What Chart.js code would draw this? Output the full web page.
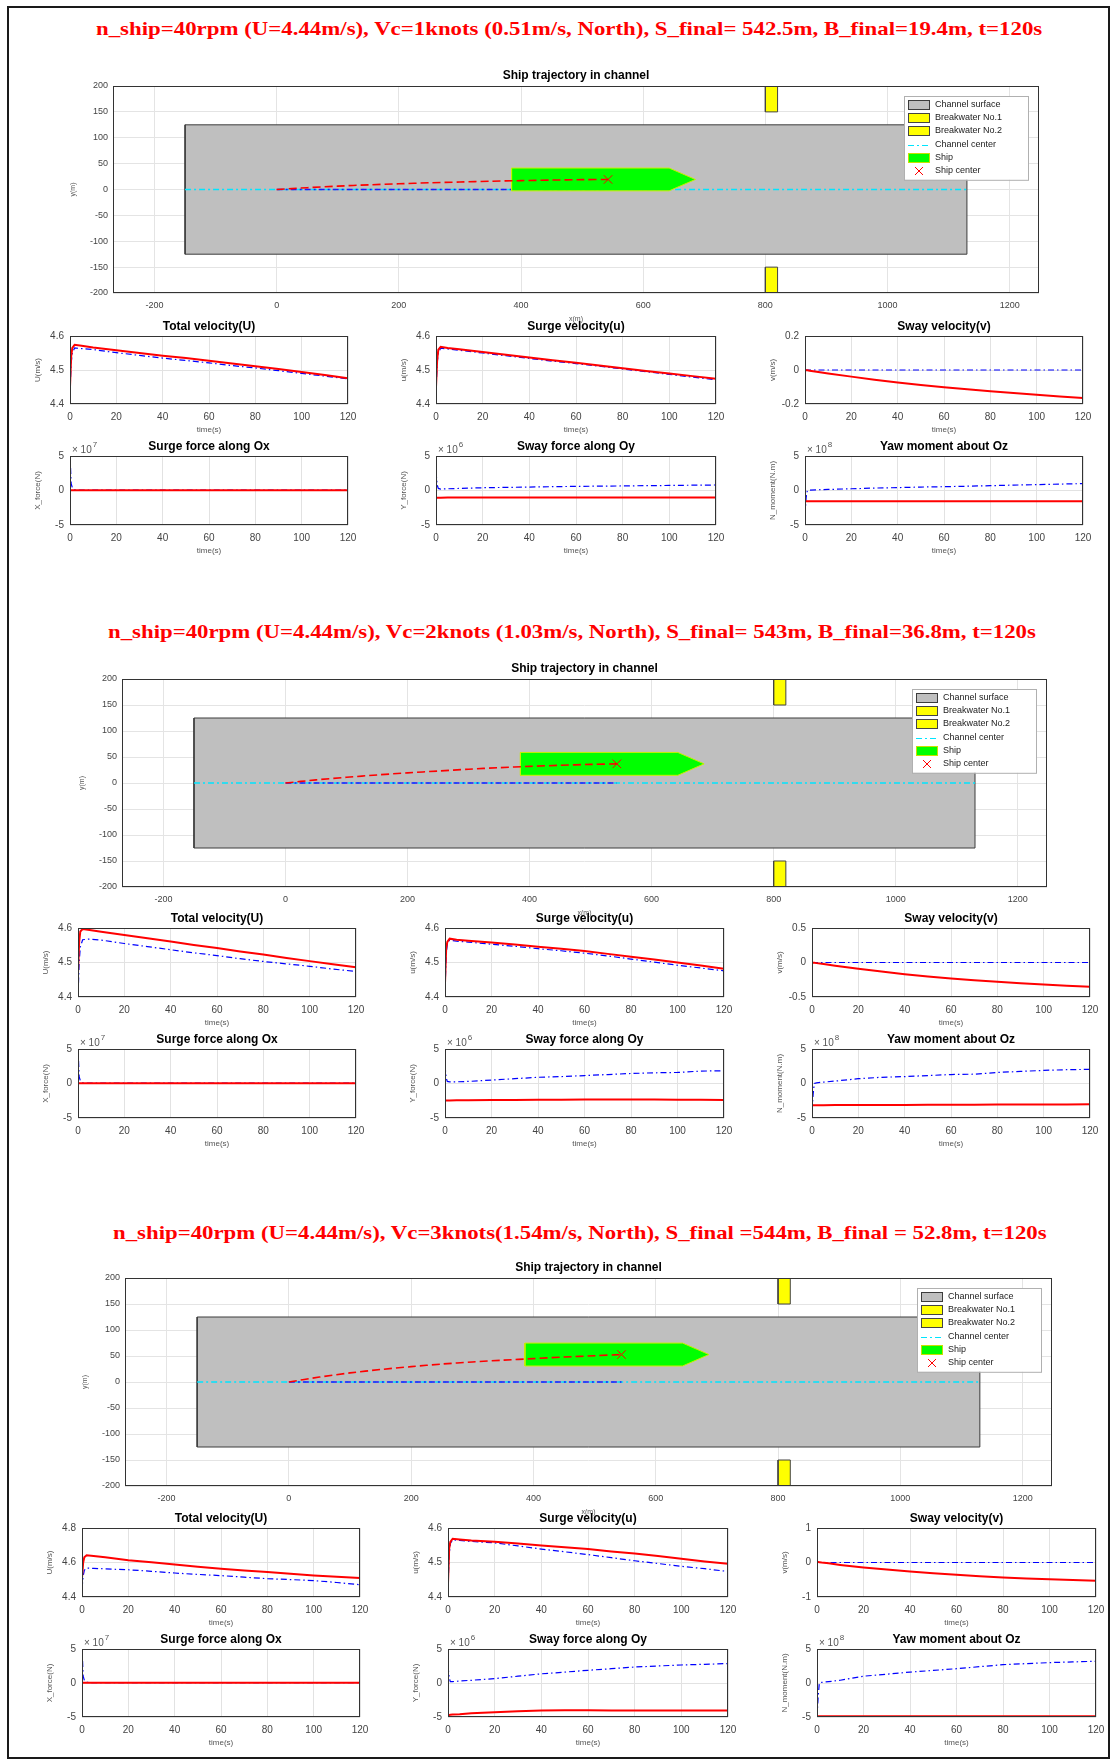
<!DOCTYPE html>
<html>
<head>
<meta charset="utf-8">
<title>Ship trajectory in channel</title>
<script src="https://cdn.jsdelivr.net/npm/chart.js@4.4.1/dist/chart.umd.min.js"></script>
<style>
body { margin: 0; background: #fff; }
#page { position: relative; width: 1111px; height: 1762px; overflow: hidden; background: #fff; }
#frame { position: absolute; left: 7px; top: 6px; width: 1103px; height: 1753px; border: 2px solid #1a1a1a; box-sizing: border-box; }
.mainTitle { position: absolute; white-space: nowrap; font: bold 19px "Liberation Serif", "Times New Roman", serif; color: #ff0000; line-height: 1; transform-origin: 0 50%; }
.cbox { position: absolute; }
</style>
</head>
<body>
<div id="page"><div id="frame"></div></div>
<script>
// ---- data ----
var titles = [
  "n_ship=40rpm (U=4.44m/s), Vc=1knots (0.51m/s, North), S_final= 542.5m, B_final=19.4m, t=120s",
  "n_ship=40rpm (U=4.44m/s), Vc=2knots (1.03m/s, North), S_final= 543m, B_final=36.8m, t=120s",
  "n_ship=40rpm (U=4.44m/s), Vc=3knots(1.54m/s, North), S_final =544m, B_final = 52.8m, t=120s"
];
var smallTitles = ["Total velocity(U)", "Surge velocity(u)", "Sway velocity(v)", "Surge force along Ox", "Sway force along Oy", "Yaw moment about Oz"];
var smallYLabels = ["U(m/s)", "u(m/s)", "v(m/s)", "X_force(N)", "Y_force(N)", "N_moment(N.m)"];
var forceExp = ["7", "6", "8"];

var timeS = [0, 0.5, 1, 2, 5, 10, 20, 30, 40, 50, 60, 70, 80, 90, 100, 110, 120];
var timeTicks = [0, 20, 40, 60, 80, 100, 120];

var trajXTicks = [-200, 0, 200, 400, 600, 800, 1000, 1200];
var trajYTicks = [-200, -150, -100, -50, 0, 50, 100, 150, 200];
var trajXRange = [-268, 1248];

var channelX = [-150, 1130, 1130, -150, -150];
var channelY = [-125, -125, 125, 125, -125];
var breakwater1X = [800, 820, 820, 800, 800];
var breakwater1Y = [150, 150, 200, 200, 150];
var breakwater2X = [800, 820, 820, 800, 800];
var breakwater2Y = [-200, -200, -150, -150, -200];
var centerX = [-150, 1130];
var centerY = [0, 0];
var shipDX = [-158, 100, 143, 100, -158, -158];
var shipDY = [-22, -22, 0, 22, 22, -22];

var S_final = [542.5, 543, 544];
var B_final = [19.4, 36.8, 52.8];
var trajX1 = [0, 50, 100, 150, 200, 250, 300, 350, 400, 450, 500, 542.5];
var trajY1 = [0, 3.5, 6.5, 9, 11, 13, 14.5, 16, 17.2, 18.2, 19, 19.4];
var trajX2 = [0, 50, 100, 150, 200, 250, 300, 350, 400, 450, 500, 543];
var trajY2 = [0, 6, 11, 15.5, 19.5, 23, 26.5, 29.5, 32, 34, 35.8, 36.8];
var trajX3 = [0, 50, 100, 150, 200, 250, 300, 350, 400, 450, 500, 544];
var trajY3 = [0, 9.5, 17.5, 24, 29.5, 34.5, 38.5, 42, 45, 48, 50.5, 52.8];

var ticksU1 = [4.4, 4.5, 4.6];
var ticksU2 = [4.4, 4.5, 4.6];
var ticksU3 = [4.4, 4.6, 4.8];
var ticksu = [4.4, 4.5, 4.6];
var ticksV1 = [-0.2, 0, 0.2];
var ticksV2 = [-0.5, 0, 0.5];
var ticksV3 = [-1, 0, 1];
var ticksF = [-5, 0, 5];

// Vc = 1 knot
var U1_red  = [4.45, 4.54, 4.565, 4.574, 4.571, 4.566, 4.558, 4.550, 4.542, 4.535, 4.527, 4.519, 4.511, 4.503, 4.494, 4.485, 4.476];
var U1_blue = [4.44, 4.52, 4.550, 4.565, 4.563, 4.560, 4.551, 4.543, 4.535, 4.528, 4.521, 4.513, 4.506, 4.498, 4.490, 4.482, 4.474];
var u1_red  = [4.45, 4.53, 4.560, 4.568, 4.565, 4.561, 4.553, 4.545, 4.537, 4.529, 4.521, 4.513, 4.505, 4.497, 4.490, 4.482, 4.474];
var u1_blue = [4.44, 4.52, 4.550, 4.564, 4.562, 4.558, 4.550, 4.542, 4.534, 4.526, 4.519, 4.511, 4.503, 4.495, 4.487, 4.479, 4.471];
var v1_red  = [0, -0.001, -0.002, -0.004, -0.010, -0.020, -0.039, -0.057, -0.073, -0.088, -0.101, -0.113, -0.125, -0.136, -0.146, -0.156, -0.164];
var v1_blue = [0, 0, 0, 0, 0, 0, 0, 0, 0, 0, 0, 0, 0, 0, 0, 0, 0];
var X1_red  = [0.05, 0.05, 0.05, 0.05, 0.05, 0.05, 0.05, 0.05, 0.05, 0.05, 0.05, 0.05, 0.05, 0.05, 0.05, 0.05, 0.05];
var X1_blue = [5.2, 1.0, 0.4, 0.1, 0.05, 0.05, 0.05, 0.05, 0.05, 0.05, 0.05, 0.05, 0.05, 0.05, 0.05, 0.05, 0.05];
var Y1_red  = [-1.05, -1.05, -1.05, -1.04, -1.03, -1.02, -1.0, -1.0, -1.0, -1.0, -1.0, -1.0, -1.0, -1.0, -1.0, -1.0, -1.0];
var Y1_blue = [2.7, 0.8, 0.3, 0.2, 0.25, 0.3, 0.4, 0.45, 0.5, 0.55, 0.6, 0.63, 0.66, 0.7, 0.73, 0.77, 0.8];
var N1_red  = [-1.55, -1.55, -1.55, -1.55, -1.55, -1.55, -1.55, -1.55, -1.55, -1.55, -1.55, -1.55, -1.55, -1.55, -1.55, -1.55, -1.55];
var N1_blue = [-3.5, -1.0, 0.0, 0.05, 0.1, 0.15, 0.25, 0.35, 0.42, 0.5, 0.55, 0.62, 0.7, 0.78, 0.85, 0.93, 1.0];

// Vc = 2 knots
var U2_red  = [4.47, 4.56, 4.590, 4.597, 4.594, 4.589, 4.580, 4.570, 4.561, 4.551, 4.542, 4.532, 4.523, 4.513, 4.504, 4.495, 4.486];
var U2_blue = [4.40, 4.50, 4.545, 4.566, 4.568, 4.565, 4.555, 4.546, 4.537, 4.528, 4.520, 4.511, 4.503, 4.496, 4.489, 4.481, 4.474];
var u2_red  = [4.44, 4.54, 4.560, 4.569, 4.566, 4.563, 4.558, 4.552, 4.546, 4.540, 4.533, 4.525, 4.517, 4.509, 4.500, 4.491, 4.482];
var u2_blue = [4.42, 4.52, 4.555, 4.565, 4.562, 4.559, 4.553, 4.547, 4.540, 4.534, 4.527, 4.519, 4.510, 4.501, 4.492, 4.484, 4.476];
var v2_red  = [0, -0.002, -0.004, -0.009, -0.023, -0.046, -0.092, -0.131, -0.169, -0.202, -0.232, -0.257, -0.280, -0.300, -0.319, -0.337, -0.353];
var v2_blue = [0, 0, 0, 0, 0, 0, 0, 0, 0, 0, 0, 0, 0, 0, 0, 0, 0];
var X2_red  = [0.05, 0.05, 0.05, 0.05, 0.05, 0.05, 0.05, 0.05, 0.05, 0.05, 0.05, 0.05, 0.05, 0.05, 0.05, 0.05, 0.05];
var X2_blue = [5.2, 1.0, 0.4, 0.1, 0.05, 0.05, 0.05, 0.05, 0.05, 0.05, 0.05, 0.05, 0.05, 0.05, 0.05, 0.05, 0.05];
var Y2_red  = [-2.45, -2.45, -2.45, -2.45, -2.44, -2.42, -2.40, -2.38, -2.36, -2.34, -2.32, -2.31, -2.31, -2.32, -2.34, -2.36, -2.38];
var Y2_blue = [2.6, 0.8, 0.3, 0.25, 0.25, 0.3, 0.5, 0.7, 0.9, 1.0, 1.15, 1.3, 1.45, 1.55, 1.6, 1.8, 1.85];
var N2_red  = [-3.15, -3.15, -3.15, -3.15, -3.14, -3.13, -3.12, -3.11, -3.1, -3.09, -3.08, -3.07, -3.06, -3.05, -3.04, -3.03, -3.0];
var N2_blue = [-3.9, -1.5, 0.0, 0.1, 0.2, 0.35, 0.7, 0.9, 1.0, 1.15, 1.3, 1.35, 1.6, 1.75, 1.9, 2.0, 2.05];

// Vc = 3 knots
var U3_red  = [4.51, 4.60, 4.630, 4.642, 4.638, 4.630, 4.613, 4.601, 4.589, 4.576, 4.564, 4.554, 4.545, 4.535, 4.525, 4.517, 4.510];
var U3_blue = [4.45, 4.52, 4.555, 4.568, 4.566, 4.563, 4.558, 4.549, 4.539, 4.531, 4.524, 4.515, 4.506, 4.501, 4.495, 4.484, 4.471];
var u3_red  = [4.44, 4.54, 4.560, 4.569, 4.567, 4.564, 4.560, 4.555, 4.549, 4.544, 4.539, 4.532, 4.526, 4.519, 4.511, 4.503, 4.496];
var u3_blue = [4.43, 4.52, 4.555, 4.566, 4.564, 4.561, 4.557, 4.548, 4.539, 4.531, 4.523, 4.514, 4.505, 4.497, 4.489, 4.482, 4.474];
var v3_red  = [0.02, 0.015, 0.01, 0.0, -0.025, -0.07, -0.145, -0.205, -0.26, -0.31, -0.357, -0.398, -0.435, -0.462, -0.483, -0.505, -0.53];
var v3_blue = [0, 0, 0, 0, 0, 0, 0, 0, 0, 0, 0, 0, 0, 0, 0, 0, 0];
var X3_red  = [0.05, 0.05, 0.05, 0.05, 0.05, 0.05, 0.05, 0.05, 0.05, 0.05, 0.05, 0.05, 0.05, 0.05, 0.05, 0.05, 0.05];
var X3_blue = [5.2, 1.0, 0.4, 0.1, 0.05, 0.05, 0.05, 0.05, 0.05, 0.05, 0.05, 0.05, 0.05, 0.05, 0.05, 0.05, 0.05];
var Y3_red  = [-4.7, -4.7, -4.68, -4.65, -4.6, -4.45, -4.3, -4.15, -4.05, -4.02, -4.02, -4.03, -4.03, -4.03, -4.04, -4.04, -4.04];
var Y3_blue = [2.5, 0.8, 0.2, 0.2, 0.3, 0.4, 0.65, 1.0, 1.35, 1.6, 1.87, 2.1, 2.35, 2.5, 2.65, 2.75, 2.86];
var N3_red  = [-4.9, -4.9, -4.9, -4.9, -4.9, -4.9, -4.9, -4.9, -4.9, -4.9, -4.9, -4.9, -4.9, -4.9, -4.9, -4.9, -4.9];
var N3_blue = [-5.0, -2.0, 0.0, 0.1, 0.2, 0.4, 1.0, 1.3, 1.6, 1.85, 2.1, 2.4, 2.7, 2.85, 3.0, 3.1, 3.2];

// ---- layout of the three panels (page pixels) ----
var panels = [
  { titleBox: [96, 1042, 28], trajArea: [113, 86, 1039, 293], tx: trajX1, ty: trajY1,
    cols: [[70, 348], [436, 716], [805, 1083]], rows: [[336, 404], [456, 525]],
    series: [[U1_red, U1_blue, ticksU1], [u1_red, u1_blue, ticksu], [v1_red, v1_blue, ticksV1],
             [X1_red, X1_blue, ticksF], [Y1_red, Y1_blue, ticksF], [N1_red, N1_blue, ticksF]] },
  { titleBox: [108, 1036, 631], trajArea: [122, 679, 1047, 887], tx: trajX2, ty: trajY2,
    cols: [[78, 356], [445, 724], [812, 1090]], rows: [[928, 997], [1049, 1118]],
    series: [[U2_red, U2_blue, ticksU2], [u2_red, u2_blue, ticksu], [v2_red, v2_blue, ticksV2],
             [X2_red, X2_blue, ticksF], [Y2_red, Y2_blue, ticksF], [N2_red, N2_blue, ticksF]] },
  { titleBox: [113, 1047, 1232], trajArea: [125, 1278, 1052, 1486], tx: trajX3, ty: trajY3,
    cols: [[82, 360], [448, 728], [817, 1096]], rows: [[1528, 1597], [1649, 1717]],
    series: [[U3_red, U3_blue, ticksU3], [u3_red, u3_blue, ticksu], [v3_red, v3_blue, ticksV3],
             [X3_red, X3_blue, ticksF], [Y3_red, Y3_blue, ticksF], [N3_red, N3_blue, ticksF]] }
];

var FONT = '"Liberation Sans", Arial, Helvetica, sans-serif';
Chart.defaults.font.family = FONT;
Chart.defaults.animation = false;

var page = document.getElementById('page');

// MATLAB-like box around the axes
var axesFrame = {
  id: 'axesFrame',
  afterDatasetsDraw: function(chart) {
    var a = chart.chartArea, ctx = chart.ctx;
    ctx.save();
    ctx.strokeStyle = '#333';
    ctx.lineWidth = 1;
    ctx.strokeRect(Math.round(a.left) + 0.5, Math.round(a.top) + 0.5, Math.round(a.width) - 1, Math.round(a.height) - 1);
    ctx.restore();
  }
};

// "x 10^n" multiplier above the y axis
var expLabel = {
  id: 'expLabel',
  afterDraw: function(chart, args, opts) {
    if (!opts.exp) return;
    var a = chart.chartArea, ctx = chart.ctx;
    ctx.save();
    ctx.fillStyle = '#555';
    ctx.font = '10px ' + FONT;
    ctx.fillText('\u00d7 10', a.left + 2, a.top - 3);
    var w = ctx.measureText('\u00d7 10').width;
    ctx.font = '8px ' + FONT;
    ctx.fillText(opts.exp, a.left + 3 + w, a.top - 9);
    ctx.restore();
  }
};

// legend box inside the trajectory axes (top right)
var boxLegend = {
  id: 'boxLegend',
  afterDatasetsDraw: function(chart, args, opts) {
    if (!opts.show) return;
    var ctx = chart.ctx, a = chart.chartArea;
    var items = chart.data.datasets.filter(function(d) { return d.legendKind; });
    var w = 124, rowH = 13.3, h = items.length * rowH + 4;
    var x0 = Math.round(a.right - 11 - w), y0 = Math.round(a.top + 10);
    ctx.save();
    ctx.fillStyle = '#fff';
    ctx.fillRect(x0, y0, w, h);
    ctx.strokeStyle = '#b0b0b0';
    ctx.lineWidth = 1;
    ctx.strokeRect(x0 + 0.5, y0 + 0.5, w, h);
    ctx.font = '9px ' + FONT;
    ctx.textBaseline = 'middle';
    items.forEach(function(d, i) {
      var cy = Math.round(y0 + 2 + rowH * (i + 0.5));
      var ix = x0 + 4;
      if (d.legendKind === 'box') {
        ctx.fillStyle = d.backgroundColor;
        ctx.fillRect(ix, cy - 5, 22, 10);
        ctx.strokeStyle = d.legendEdge || d.borderColor;
        ctx.strokeRect(ix + 0.5, cy - 4.5, 21, 9);
      } else if (d.legendKind === 'line') {
        ctx.strokeStyle = d.borderColor;
        ctx.setLineDash(d.borderDash || []);
        ctx.beginPath();
        ctx.moveTo(ix, cy + 0.5);
        ctx.lineTo(ix + 22, cy + 0.5);
        ctx.stroke();
        ctx.setLineDash([]);
      } else {
        ctx.strokeStyle = d.pointBorderColor;
        ctx.beginPath();
        ctx.moveTo(ix + 7, cy - 4); ctx.lineTo(ix + 15, cy + 4);
        ctx.moveTo(ix + 15, cy - 4); ctx.lineTo(ix + 7, cy + 4);
        ctx.stroke();
      }
      ctx.fillStyle = '#222';
      ctx.fillText(d.label, ix + 27, cy);
    });
    ctx.restore();
  }
};

Chart.register(axesFrame, expLabel, boxLegend);

function addCanvas(left, top, width, height) {
  var d = document.createElement('div');
  d.className = 'cbox';
  d.style.left = left + 'px';
  d.style.top = top + 'px';
  d.style.width = width + 'px';
  d.style.height = height + 'px';
  var c = document.createElement('canvas');
  d.appendChild(c);
  page.appendChild(d);
  return c;
}

function pts(xs, ys) {
  return xs.map(function(x, i) { return { x: x, y: ys[i] }; });
}

function fixedTicks(list) {
  return function(s) { s.ticks = list.map(function(v) { return { value: v }; }); };
}

function fmt(v) { return String(+Number(v).toFixed(3)); }

function addTitle(text, box) {
  var d = document.createElement('div');
  d.className = 'mainTitle';
  d.textContent = text;
  page.appendChild(d);
  var w = d.offsetWidth, h = d.offsetHeight;
  d.style.left = box[0] + 'px';
  d.style.top = (box[2] - h / 2) + 'px';
  d.style.transform = 'scaleX(' + ((box[1] - box[0]) / w).toFixed(4) + ')';
}

function smallChart(area, title, yLabel, yTicks, red, blue, exp) {
  var ml = 38, mt = 20, mr = 14, mb = 32;
  var cv = addCanvas(area[0] - ml, area[1] - mt, area[2] - area[0] + ml + mr, area[3] - area[1] + mt + mb);
  new Chart(cv, {
    type: 'line',
    data: {
      datasets: [
        { data: pts(timeS, red), borderColor: '#ff0000', borderWidth: 2, pointRadius: 0, tension: 0, fill: false, order: 1 },
        { data: pts(timeS, blue), borderColor: '#0000ff', borderWidth: 1.2, borderDash: [6, 3, 1.5, 3], pointRadius: 0, tension: 0, fill: false, order: 2 }
      ]
    },
    options: {
      responsive: true, maintainAspectRatio: false, devicePixelRatio: 1, events: [],
      layout: { padding: { left: 0, top: 0, right: mr, bottom: 0 } },
      plugins: {
        legend: { display: false },
        tooltip: { enabled: false },
        title: { display: true, text: title, fullSize: false, color: '#000',
                 font: { size: 12, weight: 'bold', lineHeight: 1 }, padding: { top: mt - 15, bottom: 3 } },
        expLabel: { exp: exp }
      },
      scales: {
        x: {
          type: 'linear', min: timeTicks[0], max: timeTicks[timeTicks.length - 1],
          afterBuildTicks: fixedTicks(timeTicks),
          afterFit: function(s) { s.height = mb; s.paddingLeft = 0; s.paddingRight = 0; },
          grid: { color: '#e2e2e2', drawTicks: false }, border: { display: false },
          ticks: { padding: 7, color: '#444', font: { size: 10 }, maxRotation: 0, autoSkip: false, callback: fmt },
          title: { display: true, text: 'time(s)', color: '#555', font: { size: 8 }, padding: { top: 0, bottom: 1 } }
        },
        y: {
          type: 'linear', min: yTicks[0], max: yTicks[yTicks.length - 1],
          afterBuildTicks: fixedTicks(yTicks),
          afterFit: function(s) { s.width = ml; s.paddingTop = 0; s.paddingBottom = 0; },
          grid: { color: '#e2e2e2', drawTicks: false }, border: { display: false },
          ticks: { padding: 6, color: '#444', font: { size: 10 }, autoSkip: false, callback: fmt },
          title: { display: true, text: yLabel, color: '#555', font: { size: 8 }, padding: { top: 1, bottom: 0 } }
        }
      }
    }
  });
}

function trajChart(area, xs, ys, S, B) {
  var ml = 46, mt = 22, mr = 14, mb = 30;
  var cv = addCanvas(area[0] - ml, area[1] - mt, area[2] - area[0] + ml + mr, area[3] - area[1] + mt + mb);
  var dashDot = [6, 3, 2, 3];
  new Chart(cv, {
    type: 'line',
    data: {
      datasets: [
        { label: 'Channel surface', legendKind: 'box', data: pts(channelX, channelY), fill: 'shape',
          backgroundColor: '#bfbfbf', borderColor: '#3c3c3c', borderWidth: 1, pointRadius: 0, tension: 0, order: 10 },
        { label: 'Breakwater No.1', legendKind: 'box', data: pts(breakwater1X, breakwater1Y), fill: 'shape',
          backgroundColor: '#ffff00', borderColor: '#444', borderWidth: 1, pointRadius: 0, tension: 0, order: 9 },
        { label: 'Breakwater No.2', legendKind: 'box', data: pts(breakwater2X, breakwater2Y), fill: 'shape',
          backgroundColor: '#ffff00', borderColor: '#444', borderWidth: 1, pointRadius: 0, tension: 0, order: 9 },
        { label: 'Channel center', legendKind: 'line', data: pts(centerX, centerY), fill: false,
          borderColor: '#00e5ff', borderWidth: 1.3, borderDash: dashDot, pointRadius: 0, tension: 0, order: 8 },
        { data: pts([0, S], [0, 0]), fill: false,
          borderColor: '#1a1aff', borderWidth: 1.6, borderDash: dashDot, pointRadius: 0, tension: 0, order: 7 },
        { label: 'Ship', legendKind: 'box', legendEdge: '#c8e000',
          data: pts(shipDX.map(function(d) { return S + d; }), shipDY.map(function(d) { return B + d; })), fill: 'shape',
          backgroundColor: '#00ff00', borderColor: '#c8f000', borderWidth: 1, pointRadius: 0, tension: 0, order: 6 },
        { data: pts(xs, ys), fill: false,
          borderColor: '#ff0000', borderWidth: 1.6, borderDash: [8, 4], pointRadius: 0, tension: 0.3, order: 5 },
        { label: 'Ship center', legendKind: 'cross', data: [{ x: S, y: B }], showLine: false, fill: false,
          pointStyle: 'crossRot', pointRadius: 6, pointBorderColor: '#ff0000', pointBorderWidth: 1, order: 4 }
      ]
    },
    options: {
      responsive: true, maintainAspectRatio: false, devicePixelRatio: 1, events: [],
      layout: { padding: { left: 0, top: 0, right: mr, bottom: 0 } },
      plugins: {
        legend: { display: false },
        tooltip: { enabled: false },
        title: { display: true, text: 'Ship trajectory in channel', fullSize: false, color: '#000',
                 font: { size: 12, weight: 'bold', lineHeight: 1 }, padding: { top: 6, bottom: 4 } },
        boxLegend: { show: true }
      },
      scales: {
        x: {
          type: 'linear', min: trajXRange[0], max: trajXRange[1],
          afterBuildTicks: fixedTicks(trajXTicks),
          afterFit: function(s) { s.height = mb; s.paddingLeft = 0; s.paddingRight = 0; },
          grid: { color: '#e4e4e4', drawTicks: false }, border: { display: false },
          ticks: { padding: 7, color: '#444', font: { size: 9 }, maxRotation: 0, autoSkip: false, callback: fmt },
          title: { display: true, text: 'x(m)', color: '#555', font: { size: 7 }, padding: { top: 0, bottom: 0 } }
        },
        y: {
          type: 'linear', min: trajYTicks[0], max: trajYTicks[trajYTicks.length - 1],
          afterBuildTicks: fixedTicks(trajYTicks),
          afterFit: function(s) { s.width = ml; s.paddingTop = 0; s.paddingBottom = 0; },
          grid: { color: '#e4e4e4', drawTicks: false }, border: { display: false },
          ticks: { padding: 5, color: '#444', font: { size: 9 }, autoSkip: false, callback: fmt },
          title: { display: true, text: 'y(m)', color: '#555', font: { size: 7 }, padding: { top: 2, bottom: 0 } }
        }
      }
    }
  });
}

panels.forEach(function(p, k) {
  addTitle(titles[k], p.titleBox);
  trajChart(p.trajArea, p.tx, p.ty, S_final[k], B_final[k]);
  p.series.forEach(function(s, i) {
    var col = p.cols[i % 3], row = p.rows[Math.floor(i / 3)];
    var exp = i >= 3 ? forceExp[i - 3] : null;
    smallChart([col[0], row[0], col[1], row[1]], smallTitles[i], smallYLabels[i], s[2], s[0], s[1], exp);
  });
});
</script>
</body>
</html>
